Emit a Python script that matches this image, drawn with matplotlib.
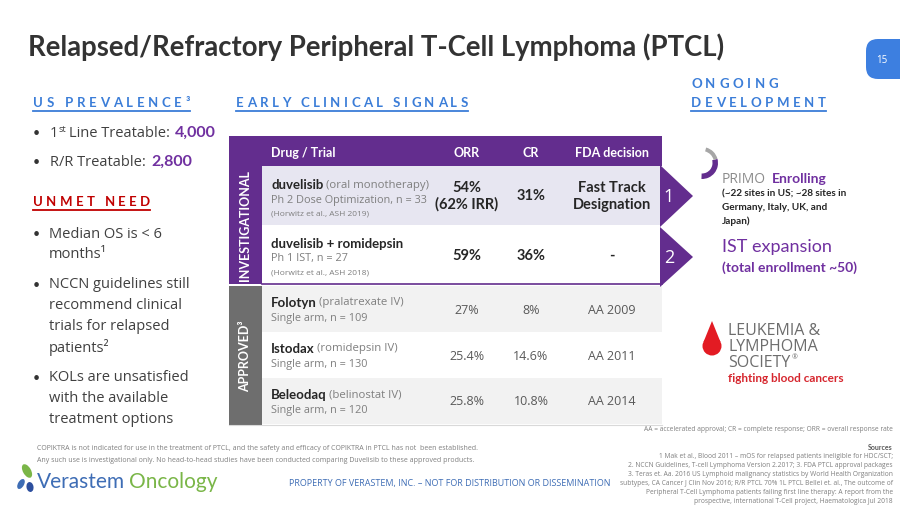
import matplotlib
matplotlib.use("Agg")
import matplotlib.pyplot as plt
from matplotlib.patches import Rectangle, Polygon, FancyBboxPatch, Ellipse, Wedge, Circle

# ---- data ----
TITLE = "Relapsed/Refractory Peripheral T-Cell Lymphoma (PTCL)"
PAGE = "15"

prev_labels = ["Line Treatable: ", "R/R Treatable: "]
prev_values = ["4,000", "2,800"]

unmet_need = [
    ["Median OS is < 6", "months\u00b9"],
    ["NCCN guidelines still", "recommend clinical", "trials for relapsed", "patients\u00b2"],
    ["KOLs are unsatisfied", "with the available", "treatment options"],
]

header = ["Drug / Trial", "ORR", "CR", "FDA decision"]
drugs = ["duvelisib", "duvelisib + romidepsin", "Folotyn", "Istodax", "Beleodaq"]
drug_notes = ["(oral monotherapy)", "", "(pralatrexate IV)", "(romidepsin IV)", "(belinostat IV)"]
designs = ["Ph 2 Dose Optimization, n = 33", "Ph 1 IST, n = 27",
           "Single arm, n = 109", "Single arm, n = 130", "Single arm, n = 120"]
refs = ["(Horwitz et al., ASH 2019)", "(Horwitz et al., ASH 2018)", "", "", ""]
orr = ["54%\n(62% IRR)", "59%", "27%", "25.4%", "25.8%"]
cr = ["31%", "36%", "8%", "14.6%", "10.8%"]
fda = ["Fast Track\nDesignation", "-", "AA 2009", "AA 2011", "AA 2014"]
investigational = [True, True, False, False, False]

primo_note = ["(~22 sites in US; ~28 sites in", "Germany, Italy, UK, and", "Japan)"]
ist_text = ["IST expansion", "(total enrollment ~50)"]
lls_lines = ["LEUKEMIA &", "LYMPHOMA", "SOCIETY"]

abbrev = "AA = accelerated approval; CR = complete response; ORR = overall response rate"
sources = [
    "1 Mak et al., Blood 2011 \u2013 mOS for relapsed patients ineligible for HDC/SCT;",
    "2. NCCN Guidelines, T-cell Lymphoma Version 2.2017; 3. FDA PTCL approval packages",
    "3. Teras et. Aa. 2016 US Lymphoid malignancy statistics by World Health Organization",
    "subtypes, CA Cancer J Clin Nov 2016; R/R PTCL 70% 1L PTCL Bellei et. al., The outcome of",
    "Peripheral T-Cell Lymphoma patients failing first line therapy: A report from the",
    "prospective, international T-Cell project, Haematologica Jul 2018",
]
disclaimer = [
    "COPIKTRA is not indicated for use in the treatment of PTCL, and the safety and efficacy of COPIKTRA in PTCL has not  been established.",
    "Any such use is investigational only. No head-to-head studies have been conducted comparing Duvelisib to these approved products.",
]
property_text = "PROPERTY OF VERASTEM, INC. \u2013 NOT FOR DISTRIBUTION OR DISSEMINATION"

# ---- style ----
SANS = "Lato"
LIGHT = "Open Sans"
PURPLE = "#632D8E"
PURPLE_TXT = "#7030A0"
BLUE = "#3B7DD8"
RED = "#C00000"
DARK = "#333333"
GRAY = "#7F7F7F"

fig = plt.figure(figsize=(9, 5.06), dpi=100)
ax = fig.add_axes([0, 0, 1, 1])
ax.set_xlim(0, 900)
ax.set_ylim(506, 0)
ax.axis("off")
R = fig.canvas.get_renderer()


def txt(x, y, s, size, color=DARK, weight="normal", family=SANS, ha="left", va="center", **kw):
    return ax.text(x, y, s, fontsize=size, color=color, fontweight=weight,
                   family=family, ha=ha, va=va, **kw)


def width(t):
    return t.get_window_extent(R).width


def run(x, y, parts, size, gap=0.3):
    # parts: list of (text, color, weight, family[, size])
    cx = x
    for i, p in enumerate(parts):
        s, c, w, f = p[:4]
        sz = p[4] if len(p) > 4 else size
        t = txt(cx, y, s, sz, c, w, f)
        cx += width(t) + (gap * size * 1.39 if i < len(parts) - 1 else 0)
    return cx


def spaced(x, y, s, size, color, x_end, underline=True):
    ts = []
    total = 0
    for ch in s:
        if ch == " ":
            ts.append(None)
            total += size * 0.35
            continue
        t = txt(0, y, ch, size, color, "bold")
        ts.append(t)
        total += width(t)
    track = (x_end - x - total) / (len(s) - 1)
    cx = x
    for ch, t in zip(s, ts):
        if t is None:
            cx += size * 0.35 + track
        else:
            t.set_x(cx)
            cx += width(t) + track
    if underline:
        ax.plot([x, x_end], [y + 9, y + 9], color=color, lw=1.3)


# title + page badge
txt(28, 47, TITLE, 19.8, DARK, "bold")
ax.add_patch(FancyBboxPatch((866, 40), 60, 40, boxstyle="round,pad=0,rounding_size=12",
                            fc="#3D7FE0", ec="none"))
txt(882, 60, PAGE, 7, "white", family=LIGHT, ha="center")

# section headers
spaced(33, 103, "US PREVALENCE\u00b3", 9.5, BLUE, 190)
spaced(236, 103, "EARLY CLINICAL SIGNALS", 9.5, BLUE, 468)
spaced(691, 84, "ONGOING", 9.5, BLUE, 778, underline=False)
spaced(691, 103, "DEVELOPMENT", 9.5, BLUE, 826)
spaced(33, 202, "UNMET NEED", 9.5, RED, 150)

# prevalence bullets
for i, (lab, val) in enumerate(zip(prev_labels, prev_values)):
    y = 133 + i * 29
    txt(33, y, "\u2022", 9, DARK)
    cx = 50
    if i == 0:
        t = txt(cx, y, "1", 10.5, "#404040", family=LIGHT)
        cx += width(t)
        t = txt(cx, y - 4, "st", 6.5, "#404040", family=LIGHT)
        cx += width(t) + 3
    run(cx, y, [(lab, "#404040", "normal", LIGHT), (val, PURPLE_TXT, "bold", SANS, 11.5)],
        10.5, gap=0.1)

# unmet need bullets
y = 234
for group in unmet_need:
    txt(33, y, "\u2022", 9, DARK)
    for line in group:
        txt(49, y, line, 10.5, "#404040", family=LIGHT)
        y += 20.8
    y += 9.4

# ---- table ----
TX0, TX1 = 229, 662
col_x = [271, 467, 531, 612]
row_top = [167, 226, 287, 333, 379]
row_bot = [226, 285, 333, 379, 425]
row_bg = ["#E7E6F1", "white", "#F2F2F2", "white", "#F2F2F2"]

ax.add_patch(Rectangle((TX0, 137), TX1 - TX0, 30, fc=PURPLE, ec="none"))
for i, h in enumerate(header):
    txt(col_x[i], 153, h, 9, "white", "bold", ha="left" if i == 0 else "center")

for i in range(len(drugs)):
    ax.add_patch(Rectangle((262, row_top[i]), TX1 - 262, row_bot[i] - row_top[i],
                           fc=row_bg[i], ec="none"))
ax.plot([262, TX1], [285, 285], color=PURPLE, lw=1.2)
ax.plot([TX0, TX1], [426, 426], color="#D9D9D9", lw=0.8)

# side bands
ax.add_patch(Rectangle((TX0, 167), 33, 118, fc=PURPLE, ec="none"))
ax.add_patch(Rectangle((TX0, 287), 33, 139, fc="#6E6E6E", ec="none"))
txt(245.5, 226, "INVESTIGATIONAL", 9, "white", "bold", ha="center", rotation=90)
txt(245.5, 356, "APPROVED\u00b3", 9, "white", "bold", ha="center", rotation=90)

for i in range(len(drugs)):
    top = row_top[i]
    mid = (row_top[i] + row_bot[i]) / 2
    if investigational[i]:
        ys = [top + 18, top + 33, top + 47]
        val_c, val_w, val_f, vs = "#262626", "bold", SANS, 10.5
    else:
        ys = [top + 16, top + 32]
        val_c, val_w, val_f, vs = "#595959", "normal", LIGHT, 9
    parts = [(drugs[i], "#262626", "bold", SANS, 9.5)]
    if drug_notes[i]:
        parts.append((drug_notes[i], GRAY, "normal", LIGHT, 8.2))
    run(col_x[0], ys[0], parts, 9, gap=0.2)
    txt(col_x[0], ys[1], designs[i], 7.8, GRAY, family=LIGHT)
    if refs[i]:
        txt(col_x[0], ys[2], refs[i], 6, GRAY, family=LIGHT)
    txt(col_x[1], mid, orr[i], vs, val_c, val_w, val_f, ha="center", linespacing=1.2)
    txt(col_x[2], mid, cr[i], vs, val_c, val_w, val_f, ha="center")
    txt(col_x[3], mid, fda[i], vs, val_c, val_w, val_f, ha="center", linespacing=1.2)

# chevrons
for k, (a, b) in enumerate([(166, 228), (228, 288)]):
    ax.add_patch(Polygon([(660, a), (693, (a + b) / 2), (660, b)], closed=True,
                         fc=PURPLE, ec="none"))
    txt(669, (a + b) / 2, str(k + 1), 13, "white", family=LIGHT, ha="center")

# ---- ongoing development ----
ax.add_patch(Wedge((702, 164), 16, -15, 92, width=5.5, fc=PURPLE, ec="none"))
ax.add_patch(Wedge((702, 164), 16, -75, -15, width=4, fc="#A6A6A6", ec="none"))
run(722, 179, [("PRIMO", "#8C8C8C", "normal", LIGHT), ("Enrolling", PURPLE_TXT, "bold", SANS)],
    10, gap=0.4)
for j, line in enumerate(primo_note):
    txt(722, 194 + j * 13.5, line, 7.2, "#262626", "bold")
txt(722, 247, ist_text[0], 13, PURPLE_TXT)
txt(722, 268, ist_text[1], 10, PURPLE_TXT, "bold")

# LLS logo
ax.add_patch(Circle((712, 347), 9.5, fc="#E31B23", ec="none"))
ax.add_patch(Polygon([(703.5, 343), (712, 322), (720.5, 343)], closed=True, fc="#E31B23", ec="none"))
for j, line in enumerate(lls_lines):
    t = txt(728, 331 + j * 16, line, 11.5, "#6D6D6D", family=LIGHT)
txt(728 + width(t) + 1, 326 + 2 * 16, "\u00ae", 5, "#6D6D6D", family=LIGHT)
txt(728, 379, "fighting blood cancers", 8.5, "#D6262E", "bold")

# ---- footers ----
txt(893, 430, abbrev, 4.8, GRAY, ha="right", family=LIGHT)
txt(893, 448, "Sources", 5, "#595959", "bold", ha="right")
for j, line in enumerate(sources):
    txt(893, 457 + j * 9, line, 4.8, GRAY, ha="right", family=LIGHT)
for j, line in enumerate(disclaimer):
    txt(37, 449 + j * 12, line, 5, GRAY, family=LIGHT)

# verastem logo
ax.add_patch(Ellipse((27, 472), 8, 15, angle=-30, fc="#7AB648", ec="none"))
ax.add_patch(Ellipse((21, 485), 6, 11, angle=30, fc="#3E6DB5", ec="none"))
ax.add_patch(Ellipse((30, 488), 7, 10, angle=-10, fc="#2D4F9E", ec="none"))
run(37, 482, [("Verastem", "#3E6DB5", "normal", SANS), ("Oncology", "#7AB648", "normal", SANS)],
    15, gap=0.2)
txt(450, 484, property_text, 6.5, "#3E6DB5", ha="center", family=LIGHT)

fig.savefig("out.png", dpi=100)
